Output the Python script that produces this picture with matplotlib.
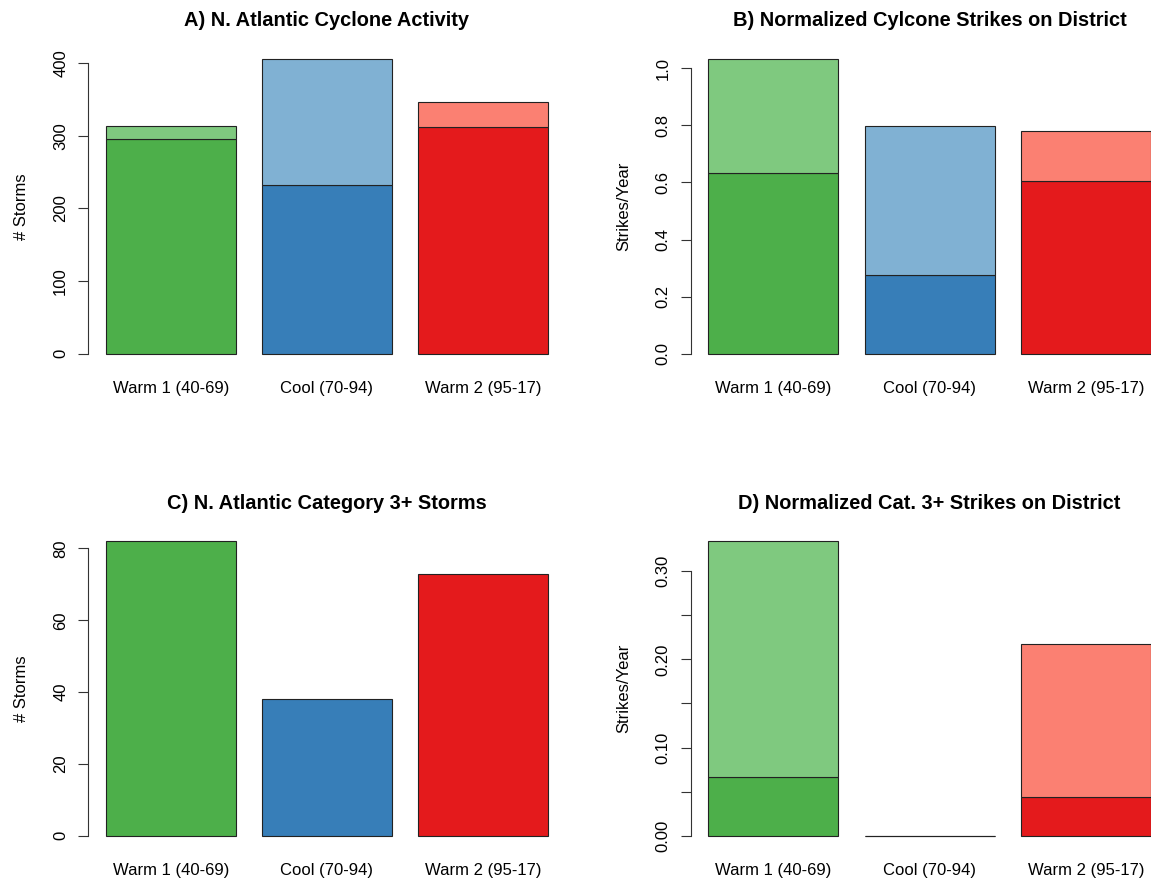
import matplotlib

matplotlib.use("Agg")
import matplotlib.pyplot as plt
import numpy as np

plt.rcParams["font.family"] = ["Liberation Sans", "DejaVu Sans"]

periods = ["Warm 1 (40-69)", "Cool (70-94)", "Warm 2 (95-17)"]

# A) all N. Atlantic storms, darker segment at the bottom
activity_base = [296, 233, 313]
activity_total = [314, 406, 347]

# B) normalized strikes on district
strikes_base = [0.632, 0.277, 0.606]
strikes_total = [1.033, 0.798, 0.781]

# C) category 3+ storms
cat3_storms = [82, 38, 73]

# D) normalized cat. 3+ strikes
cat3_base = [0.067, 0.0, 0.044]
cat3_total = [0.334, 0.0, 0.218]

dark = ["#4DAF4A", "#377EB8", "#E41A1C"]
light = ["#7FC97F", "#80B1D3", "#FB8072"]

# R barplot layout: width 1, space 0.2
x = 0.7 + 1.2 * np.arange(len(periods))

W, H = 1151, 882
fig = plt.figure(figsize=(W / 100, H / 100), dpi=100)


def make_axes(left_px, top_px):
    return fig.add_axes([left_px / W, 1 - (top_px + 318) / H, 478 / W, 318 / H])


def style(ax, title, ylabel, ticks, labels, ymax):
    ax.set_xlim(0.064, 3.736)
    ax.set_ylim(-0.04 * ymax, 1.04 * ymax)
    for side in ("top", "right", "bottom"):
        ax.spines[side].set_visible(False)
    ax.spines["left"].set_bounds(ticks[0], ticks[-1])
    ax.spines["left"].set_linewidth(0.8)
    ax.spines["left"].set_color("#333333")

    ax.set_xticks(x)
    ax.set_xticklabels(periods)
    ax.tick_params(axis="x", length=0, pad=11, labelsize=12)

    ax.set_yticks(ticks)
    ax.set_yticklabels(labels)
    ax.tick_params(axis="y", length=7.2, width=0.8, color="#333333",
                   pad=12.5, labelsize=12, labelrotation=90)
    for lab in ax.get_yticklabels():
        lab.set_ha("center")
        lab.set_va("center")

    ax.set_ylabel(ylabel, fontsize=12)
    ax.yaxis.set_label_coords(-67 / 478, 0.5)
    ax.yaxis.label.set_va("center")
    ax.set_title(title, fontsize=14.4, fontweight="bold", pad=15)


def stacked(ax, base, total):
    top = [t - b for t, b in zip(total, base)]
    ax.bar(x, base, width=1.0, color=dark, edgecolor="#222222", linewidth=0.8)
    ax.bar(x, top, width=1.0, bottom=base, color=light, edgecolor="#222222", linewidth=0.8)


# A
ax = make_axes(88, 47.3)
stacked(ax, activity_base, activity_total)
style(ax, "A) N. Atlantic Cyclone Activity", "# Storms",
      [0, 100, 200, 300, 400], ["0", "100", "200", "300", "400"], max(activity_total))

# B
ax = make_axes(690.6, 47.3)
stacked(ax, strikes_base, strikes_total)
yt = [0.0, 0.2, 0.4, 0.6, 0.8, 1.0]
style(ax, "B) Normalized Cylcone Strikes on District", "Strikes/Year",
      yt, [f"{v:.1f}" for v in yt], max(strikes_total))

# C
ax = make_axes(88, 529.5)
ax.bar(x, cat3_storms, width=1.0, color=dark, edgecolor="#222222", linewidth=0.8)
style(ax, "C) N. Atlantic Category 3+ Storms", "# Storms",
      [0, 20, 40, 60, 80], ["0", "20", "40", "60", "80"], max(cat3_storms))

# D
ax = make_axes(690.6, 529.5)
stacked(ax, cat3_base, cat3_total)
yt = [0.0, 0.05, 0.10, 0.15, 0.20, 0.25, 0.30]
yl = [f"{v:.2f}" if i % 2 == 0 else "" for i, v in enumerate(yt)]
style(ax, "D) Normalized Cat. 3+ Strikes on District", "Strikes/Year",
      yt, yl, max(cat3_total))

fig.savefig("out.png", dpi=100)
